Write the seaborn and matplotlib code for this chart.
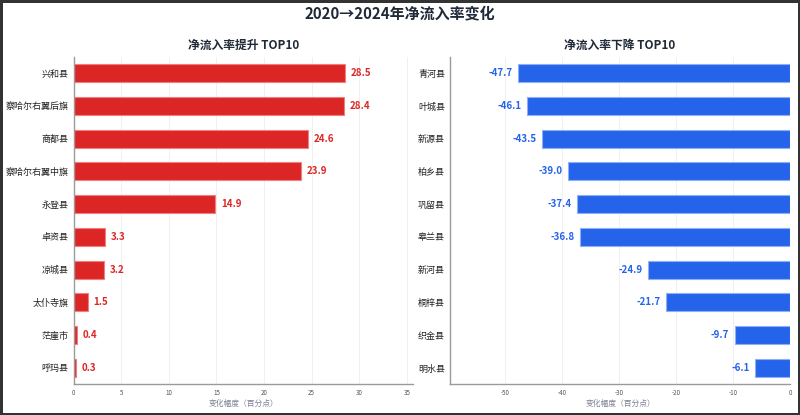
import matplotlib
matplotlib.use("Agg")
import matplotlib.pyplot as plt
import seaborn as sns
import pandas as pd

up_names = ["兴和县", "察哈尔右翼后旗", "商都县", "察哈尔右翼中旗", "永登县",
            "卓资县", "凉城县", "太仆寺旗", "茫崖市", "呼玛县"]
up_values = [28.5, 28.4, 24.6, 23.9, 14.9, 3.3, 3.2, 1.5, 0.4, 0.3]

down_names = ["青河县", "叶城县", "新源县", "柏乡县", "巩留县",
              "皋兰县", "新河县", "桐梓县", "织金县", "明水县"]
down_values = [-47.7, -46.1, -43.5, -39.0, -37.4, -36.8, -24.9, -21.7, -9.7, -6.1]

title = "2020→2024年净流入率变化"
up_title = "净流入率提升 TOP10"
down_title = "净流入率下降 TOP10"
xlabel = "变化幅度（百分点）"

sns.set_theme(style="white")
plt.rcParams['font.family'] = ['Noto Sans CJK SC', 'DejaVu Sans']
plt.rcParams['axes.unicode_minus'] = False

RED = "#dc2626"
BLUE = "#2563eb"
DARK = "#1f2937"

fig = plt.figure(figsize=(8, 4.15), dpi=100)
fig.patch.set_edgecolor("#333333")
fig.patch.set_linewidth(2.5)

ax1 = fig.add_axes([0.092, 0.074, 0.424, 0.789])
ax2 = fig.add_axes([0.5625, 0.074, 0.425, 0.789])

df_up = pd.DataFrame({"name": up_names, "value": up_values})
df_dn = pd.DataFrame({"name": down_names, "value": down_values})

sns.barplot(data=df_up, x="value", y="name", ax=ax1, color=RED, width=0.55,
            edgecolor="#f08080", linewidth=0.8, saturation=1)
sns.barplot(data=df_dn, x="value", y="name", ax=ax2, color=BLUE, width=0.55,
            edgecolor="#8fb0f5", linewidth=0.8, saturation=1)

ax1.set_xlim(0, max(up_values) * 1.25)
ax2.set_xlim(min(down_values) * 1.25, 0)

for i, v in enumerate(up_values):
    ax1.text(v + max(up_values) * 0.02, i, f"{v:.1f}", va="center", ha="left",
             color=RED, fontsize=7, fontweight="bold")
for i, v in enumerate(down_values):
    ax2.text(v + min(down_values) * 0.02, i, f"{v:.1f}", va="center", ha="right",
             color=BLUE, fontsize=7, fontweight="bold")

for ax, t in [(ax1, up_title), (ax2, down_title)]:
    ax.set_title(t, fontsize=8.5, fontweight="bold", color=DARK, pad=6)
    ax.set_xlabel(xlabel, fontsize=5.6, color="#7b8494", labelpad=2)
    ax.set_ylabel("")
    for s in ["top", "right"]:
        ax.spines[s].set_visible(False)
    for s in ["left", "bottom"]:
        ax.spines[s].set_color("#9a9a9a")
        ax.spines[s].set_linewidth(1.0)
    ax.tick_params(axis="x", labelsize=4.5, colors="#555555", length=2, width=0.6, pad=1.5)
    ax.tick_params(axis="y", labelsize=6.5, colors="#222222", length=2, width=0.6, pad=1.5)
    for lab in ax.get_yticklabels():
        lab.set_color("#222222")
    ax.xaxis.grid(True, color="#eeeeee", linewidth=0.6)
    ax.set_axisbelow(True)

ax1.set_xticks([0, 5, 10, 15, 20, 25, 30, 35])
ax2.set_xticks([-50, -40, -30, -20, -10, 0])

fig.suptitle(title, fontsize=10.8, fontweight="bold", color=DARK, y=0.988)

fig.savefig("out.png", dpi=100, edgecolor=fig.get_edgecolor(), facecolor="white")
